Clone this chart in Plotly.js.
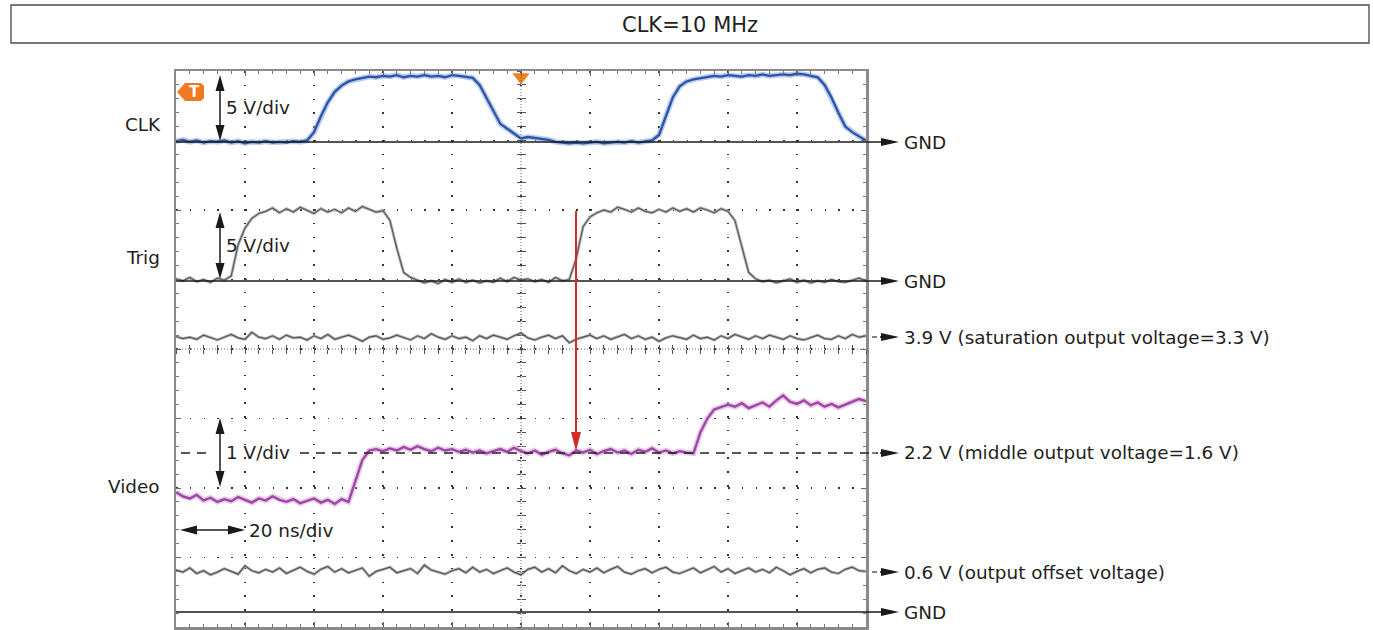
<!DOCTYPE html>
<html>
<head>
<meta charset="utf-8">
<script src="https://cdn.plot.ly/plotly-3.0.1.min.js"></script>
<style>html,body{margin:0;padding:0;background:#fff;}#chart{width:1373px;height:630px;}</style>
</head>
<body>
<div id="chart"></div>
<script>
// ---- time base (ns), 20 ns/div, 10 divisions ----
const timeNs = [-100,-98,-96,-94,-92,-90,-88,-86,-84,-82,-80,-78,-76,-74,-72,-70,-68,-66,-64,-62,
-60,-58,-56,-54,-52,-50,-48,-46,-44,-42,-40,-38,-36,-34,-32,-30,-28,-26,-24,-22,
-20,-18,-16,-14,-12,-10,-8,-6,-4,-2,0,2,4,6,8,10,12,14,16,18,
20,22,24,26,28,30,32,34,36,38,40,42,44,46,48,50,52,54,56,58,
60,62,64,66,68,70,72,74,76,78,80,82,84,86,88,90,92,94,96,98,100];

// ---- traces, in screen divisions (centre = 0) ----
const clkDiv = [2.99,3.01,2.98,3.00,2.97,2.99,2.98,3.00,2.97,2.99,2.96,2.98,2.97,2.99,2.97,2.98,2.97,2.99,2.98,3.00,
3.12,3.35,3.55,3.70,3.79,3.85,3.88,3.90,3.92,3.91,3.93,3.92,3.94,3.91,3.93,3.92,3.94,3.92,3.93,3.91,
3.94,3.93,3.92,3.90,3.80,3.62,3.42,3.24,3.17,3.10,3.03,3.05,3.04,3.02,3.01,2.98,2.97,2.96,2.97,2.96,
2.97,2.98,2.96,2.97,2.98,2.97,2.99,2.97,2.98,3.00,3.08,3.35,3.62,3.78,3.85,3.88,3.90,3.91,3.93,3.92,
3.94,3.93,3.92,3.94,3.93,3.95,3.93,3.94,3.95,3.94,3.96,3.95,3.93,3.91,3.80,3.62,3.40,3.20,3.12,3.06,3.00];

const trigDiv = [1.01,0.98,1.03,0.97,1.00,0.96,1.02,0.99,1.05,1.50,1.74,1.88,1.95,1.98,2.03,1.96,2.02,1.97,2.04,1.99,
1.95,2.02,1.97,2.01,1.96,2.03,1.98,2.05,2.01,1.97,1.99,1.85,1.45,1.10,1.03,0.99,0.95,0.98,0.94,1.00,
0.96,1.01,0.96,0.99,0.95,0.98,0.96,1.02,0.97,1.03,0.99,1.01,0.97,1.00,0.96,1.03,0.98,1.00,1.30,1.76,
1.90,1.96,2.00,1.97,2.04,2.01,1.97,2.03,1.98,1.96,2.01,1.97,2.03,1.98,2.02,1.97,2.03,2.00,1.96,2.02,
1.98,1.85,1.47,1.10,1.01,0.97,0.99,0.95,0.98,1.01,0.96,0.99,0.95,0.98,0.96,1.00,0.97,0.96,0.99,1.02,0.98];

const satDiv = [0.18,0.15,0.17,0.14,0.20,0.16,0.13,0.17,0.21,0.16,
0.14,0.24,0.17,0.15,0.19,0.14,0.20,0.16,0.17,0.13,
0.19,0.15,0.21,0.14,0.17,0.20,0.16,0.11,0.17,0.19,
0.14,0.16,0.20,0.17,0.13,0.19,0.15,0.22,0.17,0.14,
0.19,0.15,0.17,0.12,0.19,0.15,0.20,0.17,0.14,0.19,
0.23,0.16,0.13,0.17,0.20,0.15,0.19,0.09,0.14,0.17,
0.20,0.15,0.19,0.14,0.17,0.21,0.15,0.19,0.14,0.17,
0.11,0.16,0.19,0.17,0.14,0.20,0.15,0.17,0.13,0.19,
0.15,0.21,0.17,0.14,0.19,0.15,0.20,0.17,0.14,0.19,
0.15,0.13,0.17,0.20,0.15,0.14,0.19,0.15,0.21,0.17,0.19];

const videoDiv = [-2.06,-2.12,-2.15,-2.10,-2.18,-2.14,-2.20,-2.16,-2.19,-2.13,-2.17,-2.21,-2.15,-2.18,-2.12,-2.17,-2.20,-2.16,-2.22,-2.18,
-2.15,-2.21,-2.17,-2.23,-2.16,-2.20,-1.90,-1.60,-1.46,-1.44,-1.47,-1.43,-1.46,-1.41,-1.45,-1.40,-1.44,-1.47,-1.42,-1.46,
-1.44,-1.48,-1.45,-1.49,-1.46,-1.50,-1.47,-1.44,-1.48,-1.42,-1.47,-1.50,-1.46,-1.52,-1.48,-1.45,-1.50,-1.53,-1.46,-1.49,
-1.45,-1.51,-1.47,-1.44,-1.49,-1.46,-1.51,-1.45,-1.48,-1.43,-1.49,-1.46,-1.50,-1.47,-1.49,-1.50,-1.20,-1.00,-0.87,-0.84,
-0.80,-0.83,-0.78,-0.85,-0.81,-0.77,-0.83,-0.74,-0.67,-0.76,-0.79,-0.74,-0.81,-0.77,-0.83,-0.79,-0.84,-0.80,-0.76,-0.72,-0.75];

const offsetDiv = [-3.18,-3.21,-3.15,-3.23,-3.19,-3.25,-3.21,-3.16,-3.20,-3.24,
-3.12,-3.19,-3.22,-3.17,-3.21,-3.15,-3.23,-3.19,-3.14,-3.20,
-3.24,-3.17,-3.13,-3.21,-3.16,-3.22,-3.19,-3.15,-3.27,-3.20,
-3.17,-3.14,-3.22,-3.19,-3.16,-3.23,-3.11,-3.18,-3.21,-3.24,
-3.19,-3.16,-3.22,-3.14,-3.21,-3.17,-3.23,-3.19,-3.15,-3.21,
-3.25,-3.17,-3.14,-3.21,-3.16,-3.22,-3.12,-3.19,-3.23,-3.17,
-3.21,-3.15,-3.22,-3.17,-3.13,-3.21,-3.24,-3.19,-3.16,-3.22,
-3.17,-3.14,-3.21,-3.23,-3.19,-3.15,-3.22,-3.17,-3.13,-3.21,
-3.16,-3.23,-3.19,-3.15,-3.21,-3.17,-3.22,-3.14,-3.19,-3.25,
-3.20,-3.16,-3.22,-3.17,-3.15,-3.21,-3.23,-3.17,-3.14,-3.19,-3.20];

// ---- labels ----
const titleText = 'CLK=10 MHz';
const channelNames = ['CLK', 'Trig', 'Video'];
const scaleLabels = ['5 V/div', '5 V/div', '1 V/div', '20 ns/div'];
const rightLabels = ['GND', 'GND', '3.9 V (saturation output voltage=3.3 V)', '2.2 V (middle output voltage=1.6 V)', '0.6 V (output offset voltage)', 'GND'];

// ---- geometry helpers (pixel -> paper) ----
const L = 176, R = 866, T = 71, B = 627;
const xp = px => (px - L) / (R - L);
const yp = py => (B - py) / (B - T);
function head(tx, ty, bx, by, hw) {
  let pts;
  if (tx === bx) pts = [[tx, ty], [bx - hw, by], [bx + hw, by]];
  else pts = [[tx, ty], [bx, by - hw], [bx, by + hw]];
  return 'M' + pts.map(p => xp(p[0]) + ',' + yp(p[1])).join('L') + 'Z';
}
function poly(pts) { return 'M' + pts.map(p => xp(p[0]) + ',' + yp(p[1])).join('L') + 'Z'; }
function pline(x0, y0, x1, y1, color, width, dash) {
  return {type: 'line', xref: 'paper', yref: 'paper', x0: xp(x0), y0: yp(y0), x1: xp(x1), y1: yp(y1),
    line: {color: color, width: width, dash: dash || 'solid'}};
}
function pfill(path, color) {
  return {type: 'path', xref: 'paper', yref: 'paper', path: path, fillcolor: color, line: {width: 0}};
}
function ptext(text, px, py, anchor, size, extra) {
  return Object.assign({text: text, xref: 'paper', yref: 'paper', x: xp(px), y: yp(py), xanchor: anchor,
    yanchor: 'middle', showarrow: false, font: {size: size || 18.4, color: '#231f20', family: 'DejaVu Sans'}}, extra || {});
}

const blk = '#1a1a1a';
const traces = [
  {x: timeNs, y: satDiv, mode: 'lines', line: {color: '#b8b8b8', width: 3}, hoverinfo: 'skip'},
  {x: timeNs, y: satDiv, mode: 'lines', line: {color: '#555555', width: 1.2}, hoverinfo: 'skip'},
  {x: timeNs, y: offsetDiv, mode: 'lines', line: {color: '#b8b8b8', width: 3}, hoverinfo: 'skip'},
  {x: timeNs, y: offsetDiv, mode: 'lines', line: {color: '#555555', width: 1.2}, hoverinfo: 'skip'},
  {x: timeNs, y: trigDiv, mode: 'lines', line: {color: '#b8b8b8', width: 3}, hoverinfo: 'skip'},
  {x: timeNs, y: trigDiv, mode: 'lines', line: {color: '#5a5a5a', width: 1.2}, hoverinfo: 'skip'},
  {x: timeNs, y: clkDiv, mode: 'lines', line: {color: 'rgba(130,160,220,0.55)', width: 5.5}, hoverinfo: 'skip'},
  {x: timeNs, y: clkDiv, mode: 'lines', line: {color: '#2a54a8', width: 2.3}, hoverinfo: 'skip'},
  {x: timeNs, y: videoDiv, mode: 'lines', line: {color: 'rgba(220,160,220,0.6)', width: 5.5}, hoverinfo: 'skip'},
  {x: timeNs, y: videoDiv, mode: 'lines', line: {color: '#9c46a4', width: 2.3}, hoverinfo: 'skip'},
  {x: [0], y: [3.915], mode: 'markers', marker: {symbol: 'triangle-down', size: 15, color: '#f08020'}, cliponaxis: false, hoverinfo: 'skip'},
  {x: [], y: [], xaxis: 'x2', yaxis: 'y', hoverinfo: 'skip'},
  {x: [], y: [], xaxis: 'x3', yaxis: 'y', hoverinfo: 'skip'},
  {x: [], y: [], xaxis: 'x', yaxis: 'y2', hoverinfo: 'skip'},
  {x: [], y: [], xaxis: 'x', yaxis: 'y3', hoverinfo: 'skip'}
];

const shapes = [
  // title box
  {type: 'rect', xref: 'paper', yref: 'paper', x0: xp(11), x1: xp(1369), y0: yp(43), y1: yp(5), line: {color: '#4a4a4a', width: 1.3}},
  // centre dotted lines
  {type: 'line', xref: 'x', yref: 'y', x0: -100, x1: 100, y0: 0, y1: 0, line: {color: '#666', width: 1, dash: '1px,2px'}},
  {type: 'line', xref: 'x', yref: 'y', x0: 0, x1: 0, y0: -4, y1: 4, line: {color: '#666', width: 1, dash: '1px,2px'}},
  // GND lines
  pline(L, 142, 882, 142, blk, 1.5),
  pline(L, 281, 882, 281, blk, 1.5),
  pline(L, 612, 882, 612, blk, 1.5),
  // dashed middle-level line (gap for label)
  pline(181, 453, 212, 453, '#222', 1.4, '9px,7px'),
  pline(300, 453, 878, 453, '#222', 1.4, '9px,7px'),
  // small dashes before arrows
  pline(872, 337, 877, 337, '#333', 1.2),
  pline(872, 453, 877, 453, '#333', 1.2),
  pline(872, 572, 877, 572, '#333', 1.2),
  pline(880, 337, 886, 337, blk, 1.5),
  pline(880, 453, 886, 453, blk, 1.5),
  pline(880, 572, 886, 572, blk, 1.5),
  // right arrowheads
  pfill(head(899, 142, 881, 142, 4), blk),
  pfill(head(899, 281, 881, 281, 4), blk),
  pfill(head(899, 337, 881, 337, 4), blk),
  pfill(head(899, 453, 881, 453, 4), blk),
  pfill(head(899, 572, 881, 572, 4), blk),
  pfill(head(899, 612, 881, 612, 4), blk),
  // vertical double arrows
  pline(220, 88, 220, 128, blk, 1.5),
  pfill(head(220, 75, 220, 91, 4.5), blk),
  pfill(head(220, 141, 220, 125, 4.5), blk),
  pline(220, 225, 220, 266, blk, 1.5),
  pfill(head(220, 212, 220, 228, 4.5), blk),
  pfill(head(220, 279, 220, 263, 4.5), blk),
  pline(220, 431, 220, 474, blk, 1.5),
  pfill(head(220, 418, 220, 434, 4.5), blk),
  pfill(head(220, 487, 220, 471, 4.5), blk),
  // horizontal double arrow
  pline(193, 530, 232, 530, blk, 1.5),
  pfill(head(180, 530, 197, 530, 4.5), blk),
  pfill(head(245, 530, 228, 530, 4.5), blk),
  // red marker arrow
  pline(576, 211, 576, 437, '#d42a2a', 2),
  pfill(head(576, 451, 576, 432, 5), '#d42a2a'),
  // orange trigger tag
  pfill(poly([[177, 92], [185, 83], [201, 83], [204, 86], [204, 98], [201, 101], [185, 101]]), '#f07a24')
];

const annotations = [
  ptext(titleText, 690, 25, 'center', 21),
  ptext(channelNames[0], 143, 125, 'center'),
  ptext(channelNames[1], 143, 257, 'center'),
  ptext(channelNames[2], 134, 486, 'center'),
  ptext(scaleLabels[0], 224, 107, 'left'),
  ptext(scaleLabels[1], 224, 245, 'left'),
  ptext(scaleLabels[2], 224, 453, 'left'),
  ptext(scaleLabels[3], 247, 530, 'left'),
  ptext(rightLabels[0], 902, 142, 'left'),
  ptext(rightLabels[1], 902, 281, 'left'),
  ptext(rightLabels[2], 902, 337, 'left'),
  ptext(rightLabels[3], 902, 452, 'left'),
  ptext(rightLabels[4], 902, 572, 'left'),
  ptext(rightLabels[5], 902, 612, 'left'),
  ptext('<b>T</b>', 194, 92, 'center', 15, {font: {size: 15, color: '#ffffff', family: 'DejaVu Sans'}})
];

const centerAx = {showgrid: false, zeroline: false, showline: false, showticklabels: false, ticklen: 4, tickcolor: '#555', tickwidth: 1};
const layout = {
  width: 1373, height: 630,
  margin: {l: L, r: 1373 - R, t: T, b: 630 - B, pad: 0},
  paper_bgcolor: '#ffffff', plot_bgcolor: '#ffffff',
  showlegend: false,
  font: {family: 'DejaVu Sans', size: 18, color: '#231f20'},
  xaxis: {range: [-100, 100], dtick: 20, tick0: 0, showgrid: true, gridcolor: '#333', gridwidth: 1.6, griddash: '1.6px,12.2px',
    zeroline: false, showticklabels: false, ticks: 'inside', ticklen: 5, tickcolor: '#666',
    minor: {dtick: 4, ticks: 'inside', ticklen: 3, tickcolor: '#777', showgrid: false},
    showline: true, linecolor: '#8a8a8a', linewidth: 2.5, mirror: 'ticks', fixedrange: true},
  yaxis: {range: [-4, 4], dtick: 1, tick0: 0, showgrid: true, gridcolor: '#333', gridwidth: 1.6, griddash: '1.6px,12.2px',
    zeroline: false, showticklabels: false, ticks: 'inside', ticklen: 5, tickcolor: '#666',
    minor: {dtick: 0.2, ticks: 'inside', ticklen: 3, tickcolor: '#777', showgrid: false},
    showline: true, linecolor: '#8a8a8a', linewidth: 2.5, mirror: 'ticks', fixedrange: true},
  xaxis2: Object.assign({overlaying: 'x', anchor: 'free', position: 0.5, range: [-100, 100], dtick: 4, ticks: 'inside'}, centerAx),
  xaxis3: Object.assign({overlaying: 'x', anchor: 'free', position: 0.5, range: [-100, 100], dtick: 4, ticks: 'outside'}, centerAx),
  yaxis2: Object.assign({overlaying: 'y', anchor: 'free', position: 0.5, range: [-4, 4], dtick: 0.2, ticks: 'inside'}, centerAx),
  yaxis3: Object.assign({overlaying: 'y', anchor: 'free', position: 0.5, range: [-4, 4], dtick: 0.2, ticks: 'outside'}, centerAx),
  shapes: shapes,
  annotations: annotations
};

Plotly.newPlot('chart', traces, layout, {staticPlot: true, displayModeBar: false});
</script>
</body>
</html>
